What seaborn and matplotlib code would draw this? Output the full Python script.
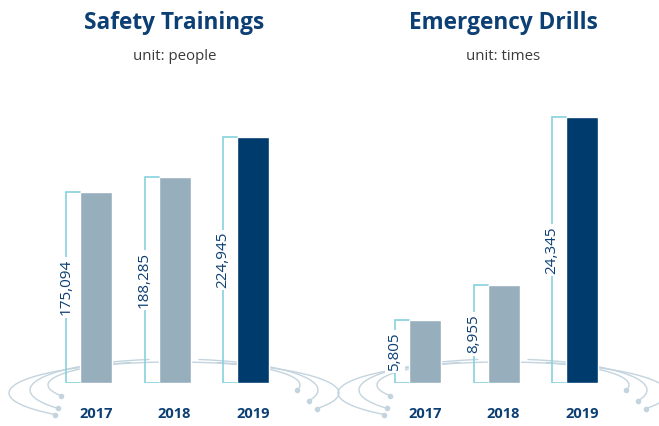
import numpy as np
import pandas as pd
import matplotlib
matplotlib.use("Agg")
import matplotlib.pyplot as plt
import seaborn as sns

years = ["2017", "2018", "2019"]
training_people = [175094, 188285, 224945]
drill_times = [5805, 8955, 24345]
panel_titles = ["Safety Trainings", "Emergency Drills"]
panel_units = ["unit: people", "unit: times"]

GRAY = "#97afbd"
NAVY = "#003b6e"
TEAL = "#86d2db"
TXT = "#0c3f74"
ARC = "#c3d4de"

sns.set_theme(style="white")
plt.rcParams["font.family"] = ["Open Sans", "DejaVu Sans"]

W, H = 659, 426
fig = plt.figure(figsize=(W / 100, H / 100), dpi=100)
fig.patch.set_facecolor("white")

# decorative overlay in pixel coordinates
deco = fig.add_axes([0, 0, 1, 1], zorder=0)
deco.set_xlim(0, W)
deco.set_ylim(H, 0)
deco.axis("off")


def ring(cx, cy, a, b, t1, t2):
    t = np.radians(np.linspace(t1, t2, 200))
    x = cx + a * np.cos(t)
    y = cy - b * np.sin(t)
    deco.plot(x, y, color=ARC, lw=1.0, solid_capstyle="round")
    return x, y


for cx in [174, 503]:
    specs = [
        (cx, 393, 165, 31, 90, 224, -30, 90),
        (cx, 390, 144, 31, 100, 216, -20, 80),
        (cx, 385, 126, 24, 110, 206, -12, 70),
    ]
    for (ccx, cy, a, b, l1, l2, r1, r2) in specs:
        x, y = ring(ccx, cy, a, b, l1, l2)
        deco.plot(x[-1], y[-1], "o", color=ARC, ms=3)
        x, y = ring(ccx, cy, a, b, r2, r1)
        deco.plot(x[-1], y[-1], "o", color=ARC, ms=3)

base_px = 383
top_px = 100
px_per_unit = 78.5
panels = [
    (0, 330, 96, training_people, 246 / 224945),
    (330, 329, 425, drill_times, 266 / 24345),
]

for i, (x0, w, c0, vals, scale) in enumerate(panels):
    ax = fig.add_axes([x0 / W, (H - base_px) / H, w / W, (base_px - top_px) / H], zorder=1)
    ax.patch.set_alpha(0)
    df = pd.DataFrame({"year": years, "value": vals})
    sns.barplot(data=df, x="year", y="value", hue="year",
                palette={years[0]: GRAY, years[1]: GRAY, years[2]: NAVY},
                width=32 / px_per_unit, legend=False, ax=ax, saturation=1)
    ax.set_xlim((x0 - c0) / px_per_unit, (x0 + w - c0) / px_per_unit)
    ax.set_ylim(0, (base_px - top_px) / scale)
    for s in ax.spines.values():
        s.set_visible(False)
    ax.set_yticks([])
    ax.set_xlabel("")
    ax.set_ylabel("")
    ax.tick_params(axis="x", length=0, pad=17)
    for lab in ax.get_xticklabels():
        lab.set_fontweight("bold")
        lab.set_fontsize(10.5)
        lab.set_color(TXT)
    off = 14 / px_per_unit
    for p in ax.patches:
        bl = p.get_x()
        hgt = p.get_height()
        xl = bl - off
        ax.plot([bl, xl, xl, bl], [hgt, hgt, 0, 0], color=TEAL, lw=1.2,
                solid_joinstyle="miter", zorder=2)
        ax.text(xl, hgt / 2, f"{hgt:,.0f}", rotation=90, ha="center", va="center",
                fontsize=11, color=TXT, zorder=3,
                bbox=dict(boxstyle="square,pad=0.15", fc="white", ec="none"))
    cmid = (c0 + px_per_unit) / W
    fig.text(cmid, 1 - 23 / H, panel_titles[i], ha="center", va="center",
             fontsize=16.3, fontweight="bold", color=TXT)
    fig.text(cmid, 1 - 57 / H, panel_units[i], ha="center", va="center",
             fontsize=10.8, color="#3a3a3a")

fig.savefig("out.png", dpi=100, facecolor="white")
